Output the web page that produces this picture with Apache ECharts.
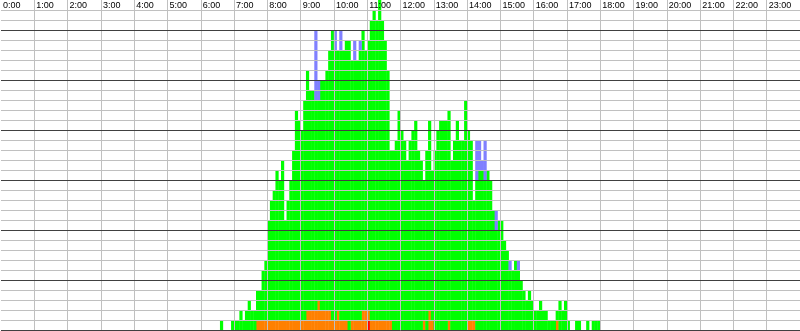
<!DOCTYPE html>
<html>
<head>
<meta charset="utf-8">
<script src="https://cdn.jsdelivr.net/npm/echarts@6/dist/echarts.min.js"></script>
<style>
  html, body { margin: 0; padding: 0; background: #fff; }
  #chart { width: 800px; height: 331px; }
</style>
</head>
<body>
<div id="chart"></div>
<script>
// 5 minute slots over the day, data below starts at slot 79 (6:35)
var startSlot = 79
var hourLabels = ['0:00','1:00','2:00','3:00','4:00','5:00','6:00','7:00','8:00','9:00','10:00','11:00',
  '12:00','13:00','14:00','15:00','16:00','17:00','18:00','19:00','20:00','21:00','22:00','23:00']

var red = [
  0,0,0,0,0,0,0,0,0,0, 0,0,0,0,0,0,0,0,0,0, 0,0,0,0,0,0,0,0,0,0,
  0,0,0,0,0,0,0,0,0,0, 0,0,0,0,0,0,0,0,0,0, 0,0,0,1,0,0,0,0,0,0,
  0,0,0,0,0,0,0,0,0,0, 0,0,0,0,0,0,0,0,0,0, 0,0,0,0,0,0,0,0,0,0,
  0,0,0,0,0,0,0,0,0,0, 0,0,0,0,0,0,0,0,0,0, 0,0,0,0,0,0,0,0,0,0,
  0,0,0,0,0,0,0,0,0,0, 0,0,0,0,0,0,0,0
]
var orange = [
  0,0,0,0,0,0,0,0,0,0, 0,0,0,1,1,1,1,1,1,1, 1,1,1,1,1,1,1,1,1,1,
  1,2,2,2,2,3,2,2,2,2, 1,1,2,1,1,1,0,1,1,1, 1,2,2,1,1,1,1,1,1,1,
  1,1,0,0,0,0,0,0,0,0, 0,0,0,1,0,2,1,0,0,0, 0,0,1,0,0,0,0,0,0,1,
  1,1,0,0,0,0,0,0,0,0, 0,0,0,0,0,0,0,0,0,0, 0,0,0,0,0,0,0,0,0,0,
  0,1,0,0,0,0,0,0,0,0, 0,0,0,0,0,0,0,0
]
var green = [
  1,0,0,0,1,1,1,2,1,2, 3,2,2,3,3,5,6,10,12,13, 15,14,16,10,12,14,17,21,20,19,
  22,24,22,22,21,20,23,23,24,26, 29,27,26,27,27,28,29,26,26,26, 27,28,26,27,30,31,30,32,30,28,
  25,17,18,19,22,20,19,17,19,20, 21,18,17,14,18,19,15,18,20,21, 21,21,21,17,19,21,19,19,23,19,
  18,12,15,16,16,15,16,15,12,10, 11,11,9,8,6,6,7,6,5,4, 3,4,3,2,2,3,2,2,1,1,
  1,1,3,2,3,1,0,0,1,1, 0,0,1,0,1,1,1,0
]
var blue = [
  0,0,0,0,0,0,0,0,0,0, 0,0,0,0,0,0,0,0,0,0, 0,0,0,0,0,0,0,0,0,0,
  0,0,0,0,7,2,0,0,0,0, 0,2,0,2,0,0,0,0,2,0, 1,0,0,0,0,0,0,0,0,0,
  0,0,0,0,0,0,0,0,0,0, 0,0,0,0,0,0,0,0,0,0, 0,0,0,0,0,0,0,0,0,0,
  0,0,4,3,1,4,0,0,0,2, 0,0,0,0,1,0,0,1,0,0, 0,0,0,0,0,0,0,0,0,0,
  0,0,0,0,0,0,0,0,0,0, 0,0,0,0,0,0,0,0
]

var slots = []
for (var i = 0; i < 288; i++) {
  var m = (i % 12) * 5
  slots.push(Math.floor(i / 12) + ':' + (m < 10 ? '0' + m : m))
}
function fill (arr) {
  var out = []
  for (var i = 0; i < 288; i++) {
    var j = i - startSlot
    out.push(j >= 0 && j < arr.length ? arr[j] : 0)
  }
  return out
}
function barSeries (name, arr, color) {
  return {
    name: name,
    type: 'bar',
    stack: 'total',
    barWidth: 3.2,
    silent: true,
    data: fill(arr),
    itemStyle: { color: color },
  }
}

var chart = echarts.init(document.getElementById('chart'))
var option = {
  animation: false,
  grid: { left: 0, right: 0, top: 0, bottom: 1 },
  xAxis: [
    { type: 'category', data: slots, show: false, boundaryGap: true },
    {
      type: 'value', min: 0, max: 24, interval: 1, position: 'top', z: 10,
      axisLine: { show: false },
      axisTick: { show: false },
      splitLine: { show: true, showMinLine: false, showMaxLine: false, lineStyle: { color: '#c0c0c0', width: 1 } },
      axisLabel: {
        inside: true, margin: 1, align: 'left', verticalAlign: 'top', padding: [0, 0, 0, 2],
        color: '#000', fontSize: 9, fontFamily: 'Liberation Sans, Arial, sans-serif',
        showMaxLabel: false,
        formatter: function (v) { return hourLabels[v] },
      },
    },
  ],
  yAxis: [
    {
      type: 'value', min: 0, max: 33, interval: 1, z: 10,
      axisLine: { show: false }, axisTick: { show: false }, axisLabel: { show: false },
      splitLine: { show: true, showMaxLine: false, lineStyle: { color: '#c0c0c0', width: 1 } },
    },
    {
      type: 'value', min: 0, max: 33, interval: 5, z: 11,
      axisLine: { show: false }, axisTick: { show: false }, axisLabel: { show: false },
      splitLine: { show: true, showMaxLine: false, lineStyle: { color: '#404040', width: 1 } },
    },
  ],
  series: [
    barSeries('red', red, '#ff0000'),
    barSeries('orange', orange, '#ff8000'),
    barSeries('green', green, '#00ff00'),
    barSeries('blue', blue, '#8080ff'),
  ],
}
chart.setOption(option)
</script>
</body>
</html>
